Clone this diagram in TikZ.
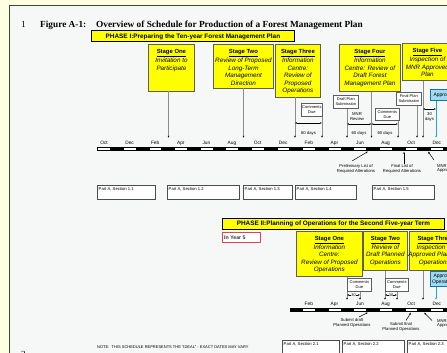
\documentclass[tikz,border=0pt]{standalone}
\usepackage{fontspec}
\setmainfont{Liberation Serif}
\setsansfont{Liberation Sans}
\usetikzlibrary{arrows.meta,calc}
\definecolor{cream}{HTML}{FFFFE1}
\definecolor{paper}{HTML}{F6F8F7}
\definecolor{frame}{HTML}{3A4A2C}
\definecolor{stage}{HTML}{FFFF00}
\definecolor{edge}{HTML}{5E5E5E}
\definecolor{wire}{HTML}{8C8C8C}
\definecolor{appr}{HTML}{9FDAF0}
\definecolor{apprline}{HTML}{1EA7E1}
\definecolor{yearred}{HTML}{E5404F}
\newcommand{\stagehead}[1]{{\upshape\bfseries\fontsize{5.9}{7.5}\selectfont\underline{#1}}}
\tikzset{
  stagebox/.style={draw=edge, fill=stage, line width=0.8pt, anchor=north west, inner sep=0pt},
  stagetext/.style={anchor=north, align=center, inner sep=0pt, font=\sffamily\itshape\fontsize{6.3}{7.5}\selectfont},
  phase/.style={draw=black, fill=stage, line width=0.9pt, anchor=north west, inner sep=0pt, font=\sffamily\bfseries\fontsize{6.4}{7}\selectfont},
  memo/.style={draw=edge, fill=white, line width=0.7pt, anchor=north west, inner sep=0pt, align=center, font=\sffamily\fontsize{4}{4.8}\selectfont},
  apprbox/.style={draw=apprline!70!black, fill=appr, line width=0.6pt, anchor=north west, inner sep=0pt, align=center, font=\sffamily\fontsize{5}{6}\selectfont},
  part/.style={draw=black!70, fill=white, line width=0.6pt, anchor=north west, inner sep=0pt},
  parttext/.style={anchor=north west, inner sep=0pt, font=\sffamily\fontsize{4.2}{5}\selectfont},
  month/.style={inner sep=0pt, font=\sffamily\fontsize{4.8}{5}\selectfont},
  small/.style={align=center, inner sep=0pt, font=\sffamily\fontsize{4.2}{4.9}\selectfont},
  conn/.style={draw=wire, line width=0.6pt, -{Latex[black,length=2.2pt,width=1.8pt]}},
  appconn/.style={draw=apprline, line width=0.7pt, -{Latex[apprline,length=2.2pt,width=1.8pt]}},
  span/.style={draw=black, line width=0.4pt, {Latex[length=1.8pt,width=1.5pt]}-{Latex[length=1.8pt,width=1.5pt]}},
  point/.style={draw=black, line width=0.5pt, -{Latex[length=2.2pt,width=1.8pt]}},
  seg/.style={draw=black, fill=white, line width=0.4pt},
}
\begin{document}
\begin{tikzpicture}[x=1pt,y=-1pt]
  \useasboundingbox (0,0) rectangle (447,353);
  \clip (0,0) rectangle (447,353);
  \fill[cream] (0,0) rectangle (447,353);
  \fill[paper] (9,6) rectangle (447,353);
  \draw[frame, line width=1pt] (9,353) -- (9,6) -- (447,6);

  % heading
  \node[anchor=base west, inner sep=0pt, font=\fontsize{9.3}{10}\selectfont] (ln1) at (21,28) {1};
  \node[anchor=base west, inner sep=0pt, font=\bfseries\fontsize{9.3}{10}\selectfont] (fig) at (40,28) {Figure A-1:};
  \node[anchor=base west, inner sep=0pt, font=\bfseries\fontsize{9.3}{10}\selectfont] (ttl) at (96,28) {Overview of Schedule for Production of a Forest Management Plan};
  \node[anchor=base west, inner sep=0pt, font=\fontsize{9.3}{10}\selectfont] (ln2) at (21,357) {2};

  % phase I
  \node[phase, minimum width=203pt, minimum height=11pt] (ph1) at (91,30.5) {PHASE I:Preparing the Ten-year Forest Management Plan};

  \node[stagebox, minimum width=46pt, minimum height=46pt] (s1) at (148,44.5) {};
  \node[stagetext] (s1t) at ($(s1.north)+(0,5)$) {\stagehead{Stage One}\\Invitation to\\Participate};
  \node[stagebox, minimum width=60pt, minimum height=43pt] (s2) at (213,44.5) {};
  \node[stagetext] (s2t) at ($(s2.north)+(0,5)$) {\stagehead{Stage Two}\\Review of Proposed\\Long-Term\\Management\\Direction};
  \node[stagebox, minimum width=45pt, minimum height=52pt] (s3) at (275,44.5) {};
  \node[stagetext] (s3t) at ($(s3.north)+(0,5)$) {\stagehead{Stage Three}\\Information\\Centre:\\Review of\\Proposed\\Operations};
  \node[stagebox, minimum width=61pt, minimum height=46.5pt] (s4) at (339,44.5) {};
  \node[stagetext] (s4t) at ($(s4.north)+(0,5)$) {\stagehead{Stage Four}\\Information\\Centre: Review of\\Draft Forest\\Management Plan};
  \node[stagebox, minimum width=50pt, minimum height=37pt] (s5) at (402,43) {};
  \node[stagetext] (s5t) at ($(s5.north)+(0,5.5)$) {\stagehead{Stage Five}\\Inspection of\\MNR Approved\\Plan};
  \node[apprbox, minimum width=28pt, minimum height=11pt] (ap1) at (430,89) {Approved};

  \coordinate (a1) at (168.5,138);
  \coordinate (a2) at (243.5,138);
  \coordinate (a3) at (295,138);
  \coordinate (c3) at (322,138);
  \coordinate (d4) at (347,138);
  \coordinate (a4) at (371.5,138);
  \coordinate (c4) at (398,138);
  \coordinate (f5) at (417,138);
  \coordinate (a5) at (423,138);
  \coordinate (p5) at (436,138);

  \draw[conn] (s1.south -| a1) -- (a1);
  \draw[conn] (s2.south -| a2) -- (a2);
  \draw[conn] (s3.south -| a3) -- (a3);
  \draw[conn] (s4.south -| a4) -- (a4);
  \draw[conn] (s5.south -| a5) -- (a5);
  \draw[appconn] (ap1.south -| p5) -- (p5);

  \node[memo, minimum width=21pt, minimum height=13pt] (cd1) at (301,103) {Comments\\Due};
  \node[memo, minimum width=25pt, minimum height=13pt] (dp) at (333,95) {Draft Plan\\Submission};
  \node[memo, minimum width=24pt, minimum height=12pt] (cd2) at (375,108) {Comments\\Due};
  \node[memo, minimum width=25pt, minimum height=13pt] (fp) at (396,92) {Final Plan\\Submission};

  \draw[conn] (cd1.south -| c3) -- (c3);
  \draw[conn] (dp.south -| d4) -- (d4);
  \draw[conn] (cd2.south -| c4) -- (c4);
  \draw[conn] (fp.south -| f5) -- (f5);

  \draw[span] (a3 |- 0,123) -- (c3 |- 0,123);
  \draw[span] (d4 |- 0,124) -- (a4 |- 0,124);
  \draw[span] (a4 |- 0,124) -- (c4 |- 0,124);
  \draw[span] (a5 |- 0,109) -- (p5 |- 0,109);
  \node[small] (g3) at (308.5,133) {60 days};
  \node[small] (mr) at (357,116.5) {MNR\\Review};
  \node[small] (g4) at (359,133) {60 days};
  \node[small] (g5) at (385,133) {60 days};
  \node[small] (g6) at (429.5,117) {30\\days};

  % time line I
  \foreach \m [count=\k from 0] in {Oct,Dec,Feb,Apr,Jun,Aug,Oct,Dec,Feb,Apr,Jun,Aug,Oct,Dec}{
    \fill[black] ({110.4+25.6*\k},147) rectangle ++(12.8,3.5);
    \draw[seg] ({97.6+25.6*\k},147) rectangle ++(12.8,3.5);
    \node[month] (ma\k) at ({104+25.6*\k},143) {\m};
  }

  \node[small] (pl) at (356,168.5) {Preliminary List of\\Required Alterations};
  \node[small] (fl) at (402,168.5) {Final List of\\Required Alterations};
  \node[small, anchor=north west, align=left] (ma) at (437,164) {MNR\\Approves};
  \coordinate (q1) at (368,151.5);
  \coordinate (q2) at (404,151.5);
  \coordinate (q3) at (428,151.5);
  \draw[point] (352,161) -- (q1);
  \draw[point] (fl.north -| q2) -- (q2);
  \draw[point] (434,160) -- (q3);

  \node[part, minimum width=58pt, minimum height=14pt] (p11) at (97,185) {};
  \node[part, minimum width=72pt, minimum height=14pt] (p12) at (167,185) {};
  \node[part, minimum width=49pt, minimum height=14pt] (p13) at (243,185) {};
  \node[part, minimum width=61pt, minimum height=14pt] (p14) at (295,185) {};
  \node[part, minimum width=62pt, minimum height=14pt] (p15) at (372,185) {};
  \foreach \b/\s in {p11/1.1,p12/1.2,p13/1.3,p14/1.4,p15/1.5}
    \node[parttext] at ($(\b.north west)+(1.5,2.5)$) {Part A, Section \s};

  % phase II
  \node[phase, minimum width=222pt, minimum height=11pt] (ph2) at (222,218) {PHASE II:Planning of Operations for the Second Five-year Term};
  \node[draw=yearred, fill=white, line width=0.8pt, anchor=north west, minimum width=38pt, minimum height=10pt, inner sep=0pt] (yr) at (222,232) {};
  \node[anchor=west, inner sep=0pt, font=\sffamily\bfseries\fontsize{5.2}{6}\selectfont, text=black!80] (yrt) at ($(yr.west)+(2,0)$) {In Year 5};

  \node[stagebox, minimum width=66pt, minimum height=45pt] (t1) at (296,231) {};
  \node[stagetext] (t1t) at ($(t1.north)+(0,5)$) {\stagehead{Stage One}\\Information\\Centre:\\Review of Proposed\\Operations};
  \node[stagebox, minimum width=44pt, minimum height=39pt] (t2) at (363,231) {};
  \node[stagetext] (t2t) at ($(t2.north)+(0,5)$) {\stagehead{Stage Two}\\Review of\\Draft Planned\\Operations};
  \node[stagebox, minimum width=50pt, minimum height=39pt] (t3) at (409,231) {};
  \node[stagetext] (t3t) at ($(t3.north)+(0,5)$) {\stagehead{Stage Three}\\Inspection of\\Approved Planned\\Operations};
  \node[apprbox, minimum width=28pt, minimum height=15pt] (ap2) at (430,271) {Approved\\Operations};

  \coordinate (b1) at (347,300);
  \coordinate (e1) at (360,300);
  \coordinate (b2) at (385,300);
  \coordinate (e2) at (397,300);
  \coordinate (b3) at (423,300);
  \coordinate (r3) at (436,300);

  \draw[conn] (t1.south -| b1) -- (b1);
  \draw[conn] (t2.south -| b2) -- (b2);
  \draw[conn] (t3.south -| b3) -- (b3);
  \draw[appconn] (ap2.south -| r3) -- (r3);

  \node[memo, minimum width=24pt, minimum height=13pt] (cd3) at (347,278) {Comments\\Due};
  \node[memo, minimum width=23pt, minimum height=13pt] (cd4) at (385,278) {Comments\\Due};
  \draw[conn] (cd3.south -| e1) -- (e1);
  \draw[conn] (cd4.south -| e2) -- (e2);
  \draw[span] (b1 |- 0,295) -- (e1 |- 0,295) node[midway, fill=paper, inner sep=0.3pt, font=\sffamily\fontsize{3.8}{4}\selectfont] {30};
  \draw[span] (b2 |- 0,295) -- (e2 |- 0,295) node[midway, fill=paper, inner sep=0.3pt, font=\sffamily\fontsize{3.8}{4}\selectfont] {30};

  % time line II
  \fill[black] (289.6,308) rectangle ++(12.8,3.5);
  \foreach \m [count=\k from 8] in {Feb,Apr,Jun,Aug,Oct,Dec}{
    \fill[black] ({110.4+25.6*\k},308) rectangle ++(12.8,3.5);
    \draw[seg] ({97.6+25.6*\k},308) rectangle ++(12.8,3.5);
    \node[month] (mb\k) at ({104+25.6*\k},304) {\m};
  }

  \node[small] (sd) at (352,322.5) {Submit draft\\Planned Operations};
  \node[small] (sf) at (401,327) {Submit final\\Planned Operations};
  \node[small, anchor=north west, align=left] (mn) at (437,319) {MNR\\Approves};
  \coordinate (q4) at (368,312.5);
  \coordinate (q5) at (411,312.5);
  \coordinate (q6) at (424,312.5);
  \draw[point] (359,317) -- (q4);
  \draw[point] (406,320.5) -- (q5);
  \draw[point] (432,320.5) -- (q6);

  \node[part, minimum width=57pt, minimum height=16pt] (p21) at (282,340) {};
  \node[part, minimum width=62pt, minimum height=16pt] (p22) at (342,340) {};
  \node[part, minimum width=60pt, minimum height=16pt] (p23) at (407,340) {};
  \foreach \b/\s in {p21/2.1,p22/2.2,p23/2.3}
    \node[parttext] at ($(\b.north west)+(1.5,2.5)$) {Part A, Section \s};

  \node[anchor=west, inner sep=0pt, font=\sffamily\fontsize{4}{4.5}\selectfont] (nb) at (97,347) {NOTE:\ \ THIS SCHEDULE REPRESENTS THE ``IDEAL'' - EXACT DATES MAY VARY};
\end{tikzpicture}
\end{document}
